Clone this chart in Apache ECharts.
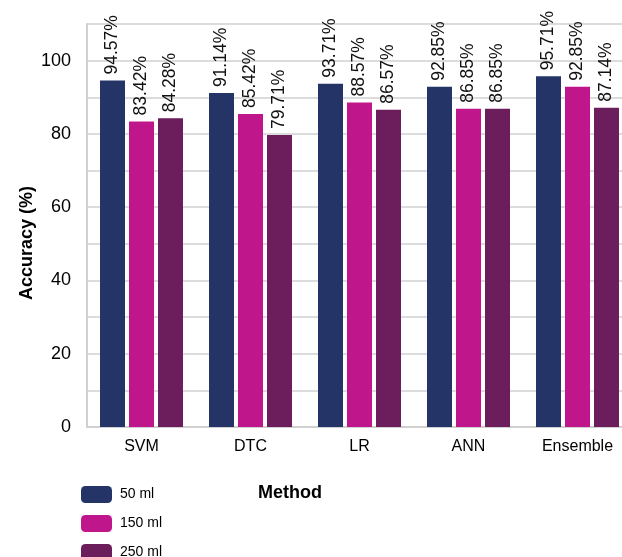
<!DOCTYPE html>
<html>
<head>
<meta charset="utf-8">
<script src="https://cdn.jsdelivr.net/npm/echarts@6/dist/echarts.min.js"></script>
<style>
  html, body { margin: 0; padding: 0; background: #fff; overflow: hidden; }
  /* canvas is a little larger than the view so the last category and the legend are not squeezed */
  #chart { width: 640px; height: 590px; }
</style>
</head>
<body>
<div id="chart"></div>
<script>
// Classification accuracy of each method at three sample volumes
const methods = ['SVM', 'DTC', 'LR', 'ANN', 'Ensemble'];
const seriesNames = ['50 ml', '150 ml', '250 ml'];
const acc50 = [94.57, 91.14, 93.71, 92.85, 95.71];
const acc150 = [83.42, 85.42, 88.57, 86.85, 92.85];
const acc250 = [84.28, 79.71, 86.57, 86.85, 87.14];
const yTicks = [0, 20, 40, 60, 80, 100];

const colors = ['#243466', '#c0168c', '#6b1d5c'];
const FONT = 'Liberation Sans, Arial, Helvetica, sans-serif';

const chart = echarts.init(document.getElementById('chart'), null, { renderer: 'canvas' });

const valueLabel = {
  show: true,
  position: 'top',
  rotate: 90,
  align: 'left',
  verticalAlign: 'middle',
  distance: 6,
  fontFamily: FONT,
  fontSize: 17.5,
  color: '#111',
  formatter: p => p.value.toFixed(2) + '%'
};

const dataSets = [acc50, acc150, acc250];

chart.setOption({
  animation: false,
  backgroundColor: '#fff',
  grid: { left: 87, top: 24, width: 545, height: 403, containLabel: false },
  title: {
    text: 'Method',
    left: 253,
    top: 479,
    textStyle: { fontFamily: FONT, fontSize: 18, fontWeight: 'bold', color: '#000' }
  },
  legend: {
    orient: 'vertical',
    left: 76,
    top: 481,
    itemWidth: 31,
    itemHeight: 17,
    itemGap: 12,
    icon: 'roundRect',
    textStyle: { fontFamily: FONT, fontSize: 14, color: '#000', padding: [0, 0, 0, 3] },
    data: seriesNames
  },
  graphic: [{
    type: 'text',
    x: 27,
    y: 243,
    rotation: Math.PI / 2,
    style: {
      text: 'Accuracy (%)',
      font: 'bold 18px ' + FONT,
      fill: '#000',
      align: 'center',
      verticalAlign: 'middle'
    }
  }],
  xAxis: {
    type: 'category',
    data: methods,
    axisLine: { show: true, lineStyle: { color: '#d0d0d0', width: 2 } },
    axisTick: { show: false },
    axisLabel: { fontFamily: FONT, fontSize: 16, color: '#000', margin: 12 }
  },
  yAxis: {
    type: 'value',
    min: 0,
    max: 110,
    interval: 10,
    axisLine: { show: true, lineStyle: { color: '#d0d0d0', width: 2 } },
    axisTick: { show: false },
    splitLine: { show: true, lineStyle: { color: '#dcdcdc', width: 2 } },
    axisLabel: {
      fontFamily: FONT,
      fontSize: 18,
      color: '#000',
      margin: 16,
      formatter: v => (yTicks.includes(v) ? String(v) : '')
    }
  },
  series: seriesNames.map((name, i) => ({
    name,
    type: 'bar',
    data: dataSets[i],
    barWidth: 25,
    barGap: '16%',
    itemStyle: { color: colors[i] },
    label: valueLabel
  }))
});
</script>
</body>
</html>
